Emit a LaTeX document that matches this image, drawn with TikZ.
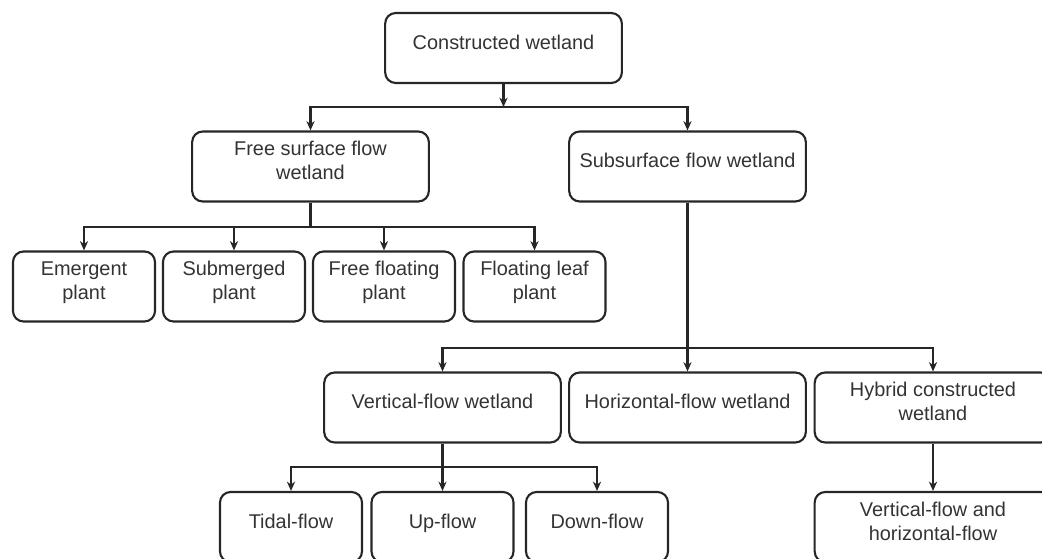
\documentclass[tikz,border=0pt]{standalone}
\usepackage{fontspec}
\setmainfont{Liberation Sans}
\usepackage{tikz}
\usetikzlibrary{arrows.meta}
\usetikzlibrary{positioning,calc}

\tikzset{
	wbox/.style={rectangle,rounded corners=9pt,draw=black!85,line width=1.8pt,
		align=center,text=black!80,font=\fontsize{17}{20.4}\selectfont,
		minimum height=2.1cm,text depth=10pt,inner sep=2pt},
	wide/.style={wbox,minimum width=7.1cm},
	narrow/.style={wbox,minimum width=4.26cm}
}

\begin{document}
\begin{tikzpicture}[x=0.03cm,y=-0.03cm]
	\useasboundingbox (0,0) rectangle (1042,558);
	\clip (0,0) rectangle (1042,558);

	\begin{scope}
		\node[wide] (cw) at (503.5,48) {Constructed wetland};
		\node[wide] (fs) at (310.5,166.5) {Free surface flow\\wetland};
		\node[wide] (ss) at (687.5,166.5) {Subsurface flow wetland};
		\node[narrow] (ep) at (84,286.5) {Emergent\\plant};
		\node[narrow] (sp) at (234,286.5) {Submerged\\plant};
		\node[narrow] (ffp) at (384,286.5) {Free floating\\plant};
		\node[narrow] (flp) at (534.5,286.5) {Floating leaf\\plant};
		\node[wide] (vf) at (442.5,407.5) {Vertical-flow wetland};
		\node[wide] (hf) at (687.5,407.5) {Horizontal-flow wetland};
		\node[wide] (hc) at (933,407.5) {Hybrid constructed\\wetland};
		\node[narrow] (tf) at (291,527) {Tidal-flow};
		\node[narrow] (uf) at (442.5,527) {Up-flow};
		\node[narrow] (df) at (597,527) {Down-flow};
		\node[wide] (vh) at (933,527) {Vertical-flow and\\horizontal-flow};
	\end{scope}

	% junctions of the branch lines
	\coordinate (j1) at (503.5,107);
	\coordinate (j2) at (310.5,227);
	\coordinate (j3) at (687.5,348);
	\coordinate (j4) at (442.5,467);

	\begin{scope}[>={Stealth[length=8pt,width=7pt]},draw=black!85,line width=2pt]
		\path[->] (cw) edge (j1);
		\draw[->] (j1) -| (fs);
		\draw[->] (j1) -| (ss);

		\draw (fs) -- (j2);
		\draw[->] (j2) -| (ep);
		\draw[->] (j2) -| (sp);
		\draw[->] (j2) -| (ffp);
		\draw[->] (j2) -| (flp);

		\draw (ss) -- (j3);
		\draw[->] (j3) -| (vf);
		\draw[->] (j3) -| (hf);
		\draw[->] (j3) -| (hc);

		\draw (vf) -- (j4);
		\draw[->] (j4) -| (tf);
		\draw[->] (j4) -| (uf);
		\draw[->] (j4) -| (df);

		\path[->] (hc) edge (vh);
	\end{scope}
\end{tikzpicture}
\end{document}
